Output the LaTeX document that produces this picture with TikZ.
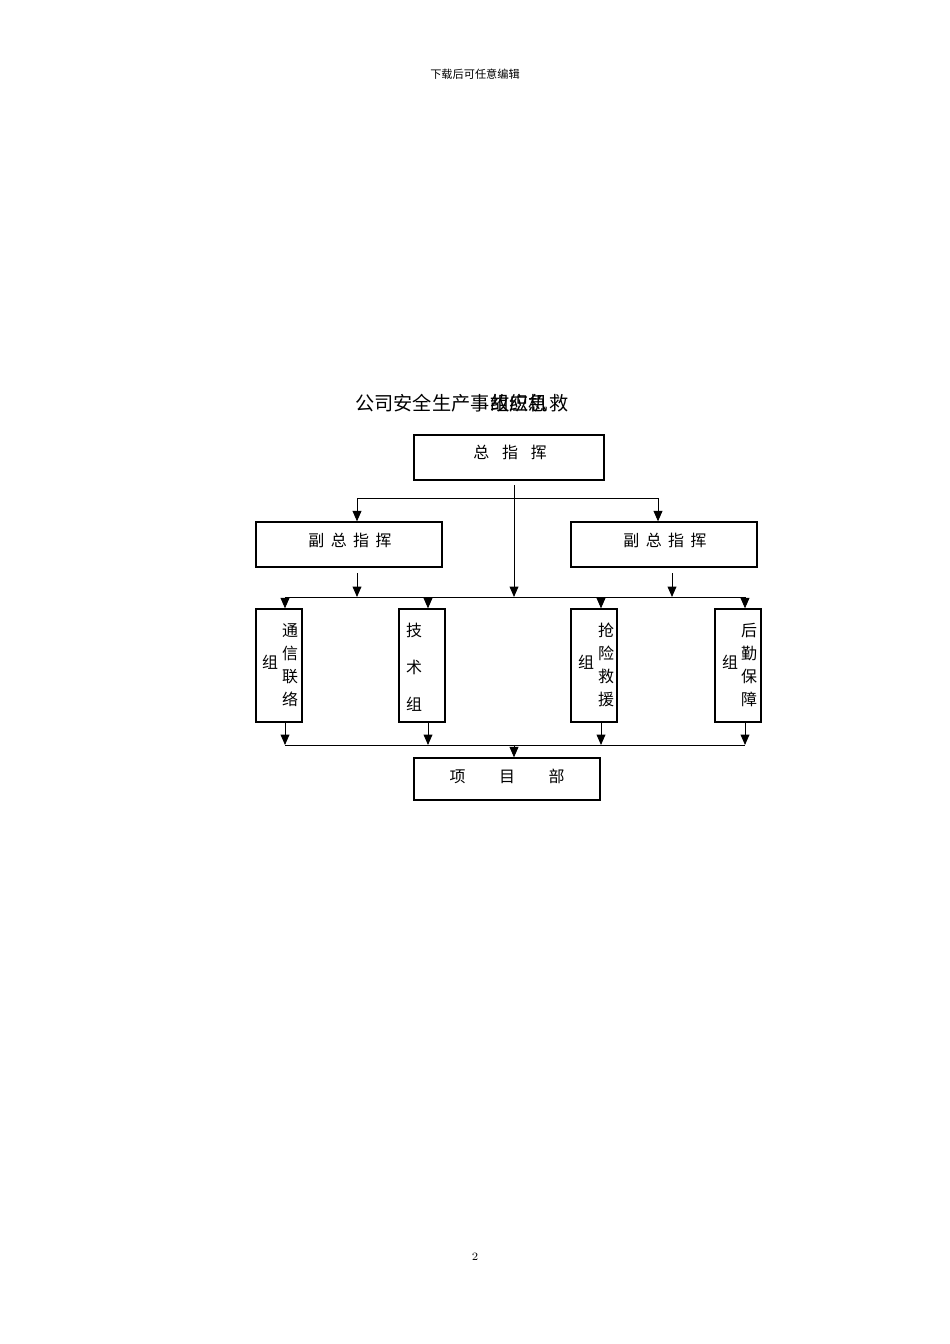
\documentclass[tikz,border=0pt]{standalone}
\usepackage{fontspec}
\usepackage{tikz}
\newfontfamily\cjk{Noto Sans CJK SC}
\usetikzlibrary{arrows.meta}
\newlength\px
\setlength\px{0.6263pt}
\tikzset{box/.style={draw,line width=0.8pt,inner sep=0pt}}
\tikzset{txt/.style={font=\cjk\fontsize{10}{14.4}\selectfont,inner sep=0pt,align=center}}

\begin{document}
\begin{tikzpicture}[line cap=butt,line join=miter,>={Triangle[length=6.5pt,width=5.5pt]},x=0.6263pt,y=-0.6263pt,line width=0.6pt]
\useasboundingbox (0,0) rectangle (950,1344);
\node[font=\cjk\fontsize{7}{8}\selectfont] (head) at (475,74) {下载后可任意编辑};
\node[font=\fontsize{7}{8}\selectfont] (pagenum) at (475,1257) {2};
% title
\node[font=\cjk\fontsize{12}{14}\selectfont,anchor=west,inner sep=0pt] (title) at (355,403) {公司安全生产事};
\node[font=\cjk\fontsize{12}{14}\selectfont,anchor=west,inner sep=0pt] (titlea) at (title.east) {故应急};
\node[font=\cjk\fontsize{12}{14}\selectfont,anchor=west,inner sep=0pt] (titleb) at (title.east) {组织机};
\node[font=\cjk\fontsize{12}{14}\selectfont,anchor=west,inner sep=0pt] (titlec) at (titlea.east) {救};
% boxes
\node[box,minimum width=190\px,minimum height=45\px] (zong) at (509,457.5) {};
\node[txt] (zongtxt) at (510,452) {总\hspace{8pt}指\hspace{8pt}挥};
\node[box,minimum width=186\px,minimum height=45\px] (fuL) at (349,544.5) {};
\node[txt] (fuLtxt) at (350,540) {副\hspace{4pt}总\hspace{4pt}指\hspace{4pt}挥};
\node[box,minimum width=186\px,minimum height=45\px] (fuR) at (664,544.5) {};
\node[txt] (fuRtxt) at (665,540) {副\hspace{4pt}总\hspace{4pt}指\hspace{4pt}挥};
\node[box,minimum width=46\px,minimum height=113\px] (g1) at (279,665.5) {};
\node[box,minimum width=46\px,minimum height=113\px] (g2) at (422,665.5) {};
\node[box,minimum width=46\px,minimum height=113\px] (g3) at (594,665.5) {};
\node[box,minimum width=46\px,minimum height=113\px] (g4) at (738,665.5) {};
\node[box,minimum width=186\px,minimum height=42\px] (xm) at (507,779) {};
\node[txt] (xmtxt) at (507,776) {项\hspace{21pt}目\hspace{21pt}部};
% group texts
\node[txt] (g1a) at (290,665) {通\\信\\联\\络};
\node[txt] (g1b) at (270,662) {组};
\node[txt] (g2a) at (414,667) {技\\[8.8pt]术\\[8.8pt]组};
\node[txt] (g3a) at (606,665) {抢\\险\\救\\援};
\node[txt] (g3b) at (586,662) {组};
\node[txt] (g4a) at (749,665) {后\\勤\\保\\障};
\node[txt] (g4b) at (730,662) {组};
% connectors
\coordinate (top) at (514,485);
\coordinate (mid) at (514,597);
\coordinate (fl) at (357,498);
\coordinate (fr) at (658,498);
\coordinate (fuLb) at (357,573);
\coordinate (fuRb) at (672,573);
\draw[->] (top) -- (mid);
\draw (fl) -- (fr);
\draw[->] (fl) -- (fl |- fuL.north);
\draw[->] (fr) -- (fr |- fuR.north);
\draw[->] (fuLb) -- (fuLb |- mid);
\draw[->] (fuRb) -- (fuRb |- mid);
\coordinate (b1) at (285,597);
\coordinate (b4) at (745,597);
\draw (b1) -- (b4);
\coordinate (c1) at (285,745);
\coordinate (c4) at (745,745);
\coordinate (c0) at (514,745);
\draw (c1) -- (c4);
\foreach \i/\x in {1/285,2/428,3/601,4/745}{
  \draw[->] (\x,597) -- (\x,0 |- g\i.north);
  \draw[->] (g\i.south -| \x,0) -- (\x,745);
}
\draw[->] (c0) -- (c0 |- xm.north);
\end{tikzpicture}
\end{document}
